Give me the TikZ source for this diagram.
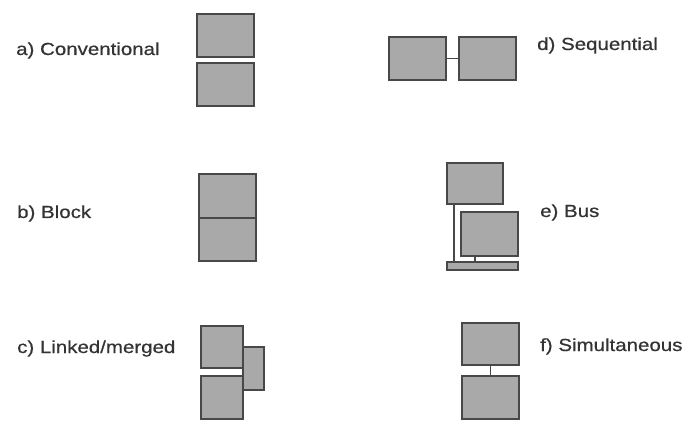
\documentclass[tikz,border=0pt]{standalone}
\usepackage{fontspec}
\newfontfamily\labfont[FakeStretch=1.17,FakeBold=0.6]{Liberation Sans}
\definecolor{boxfill}{HTML}{A9A9A9}
\definecolor{boxline}{HTML}{484848}
\definecolor{txt}{HTML}{333333}
\begin{document}
\begin{tikzpicture}[x=1pt,y=-1pt,
  blk/.style={draw=boxline,fill=boxfill,line width=1.8pt,inner sep=0pt,outer sep=0pt},
  link/.style={draw=boxline,line width=1.7pt},
  lab/.style={anchor=base west,inner sep=0pt,text=txt,font=\labfont\fontsize{17.5}{20}\selectfont}]
\useasboundingbox[fill=white] (0,0) rectangle (694,441);
% a) Conventional
\node[blk,minimum width=57pt,minimum height=43pt] (a1) at (225.5,35.5) {};
\node[blk,minimum width=57pt,minimum height=43pt] (a2) at (225.5,84.5) {};
\node[lab] (la) at (16,55) {a) Conventional};
% b) Block
\node[blk,minimum width=57pt,minimum height=44pt] (b1) at (227.5,196) {};
\node[blk,minimum width=57pt,minimum height=43pt] (b2) at (227.5,239.5) {};
\node[lab] (lb) at (17,218) {b) Block};
% c) Linked/merged
\node[blk,minimum width=21pt,minimum height=43pt] (c3) at (253.5,368.5) {};
\node[blk,minimum width=42pt,minimum height=42pt] (c1) at (222,347) {};
\node[blk,minimum width=42pt,minimum height=43pt] (c2) at (222,397.5) {};
\node[lab] (lc) at (17,353) {c) Linked/merged};
% d) Sequential
\node[blk,minimum width=57pt,minimum height=43pt] (d1) at (417.5,58.5) {};
\node[blk,minimum width=57pt,minimum height=43pt] (d2) at (487.5,58.5) {};
\draw[link] (d1.east) -- (d2.west);
\node[lab] (ld) at (537,50) {d) Sequential};
% e) Bus
\node[blk,minimum width=56pt,minimum height=41pt] (e1) at (475,183.5) {};
\node[blk,minimum width=57pt,minimum height=44pt] (e2) at (489.5,234) {};
\node[blk,line width=1.4pt,minimum width=71pt,minimum height=8pt] (bus) at (482.5,266) {};
\coordinate (e1b) at ([xshift=-21pt]e1.south);
\coordinate (bus1) at (e1b |- bus.north);
\draw[link] (e1b) -- (bus1);
\coordinate (e2b) at ([xshift=-14.5pt]e2.south);
\coordinate (bus2) at (e2b |- bus.north);
\draw[link] (e2b) -- (bus2);
\node[lab] (le) at (540,217) {e) Bus};
% f) Simultaneous
\node[blk,minimum width=57pt,minimum height=42pt] (f1) at (490.5,344) {};
\node[blk,minimum width=57pt,minimum height=43pt] (f2) at (490.5,397.5) {};
\draw[link] (f1.south) -- (f2.north);
\node[lab] (lf) at (540,351) {f) Simultaneous};
\end{tikzpicture}
\end{document}
